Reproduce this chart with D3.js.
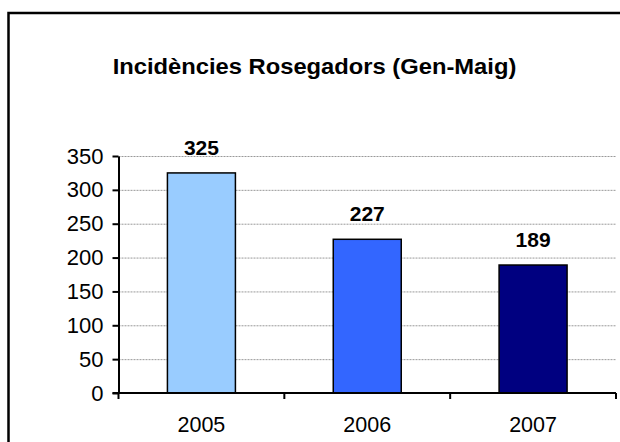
<!DOCTYPE html>
<html>
<head>
<meta charset="utf-8">
<script src="https://cdn.jsdelivr.net/npm/d3@7"></script>
<style>
  html,body{margin:0;padding:0;background:#fff;}
  svg{display:block;}
  text{font-family:"Liberation Sans",Arial,sans-serif;fill:#000;}
</style>
</head>
<body>
<svg id="chart" width="620" height="442"></svg>
<script>
// Incidències Rosegadors (Gen-Maig) — barres per any
var years=["2005","2006","2007"];
var counts=[325,227,189];
var barColors=["#99ccff","#3366ff","#000080"];
var yTicks=[0,50,100,150,200,250,300,350];
var title="Incidències Rosegadors (Gen-Maig)";

var W=620,H=442;
var plot={left:118.5,right:616,top:156,bottom:393};

var svg=d3.select("#chart");

// marc exterior (retallat a dreta i a baix, com a l'original)
svg.append("rect")
  .attr("x",8.5).attr("y",13)
  .attr("width",W).attr("height",H)
  .attr("fill","none").attr("stroke","#000").attr("stroke-width",2.5);

// títol, una mica eixamplat com a la imatge original
svg.append("text")
  .attr("transform","translate(314.5,73.5) scale(1.08,1)")
  .attr("text-anchor","middle")
  .attr("font-size",22).attr("font-weight","bold")
  .text(title);

var x=d3.scaleBand().domain(years).range([plot.left,plot.right]).paddingInner(0).paddingOuter(0);
var y=d3.scaleLinear().domain([0,350]).range([plot.bottom,plot.top]);

// graella
svg.append("g")
  .selectAll("line")
  .data(yTicks.filter(function(t){return t>0;}))
  .enter().append("line")
  .attr("x1",plot.left).attr("x2",plot.right)
  .attr("y1",function(d){return y(d)+0.5;}).attr("y2",function(d){return y(d)+0.5;})
  .attr("stroke","#999").attr("stroke-width",1).attr("stroke-dasharray","2,1");

// barres: amplada ~40% de la banda (gap 150%)
var bw=x.bandwidth()*0.41;
svg.append("g")
  .selectAll("rect")
  .data(counts)
  .enter().append("rect")
  .attr("x",function(d,i){return x(years[i])+x.bandwidth()/2-bw/2;})
  .attr("y",function(d){return y(d);})
  .attr("width",bw)
  .attr("height",function(d){return y(0)-y(d);})
  .attr("fill",function(d,i){return barColors[i];})
  .attr("stroke","#000").attr("stroke-width",1.5);

// etiquetes de valor
svg.append("g")
  .selectAll("text")
  .data(counts)
  .enter().append("text")
  .attr("x",function(d,i){return x(years[i])+x.bandwidth()/2;})
  .attr("y",function(d){return y(d)-18;})
  .attr("text-anchor","middle")
  .attr("font-size",21).attr("font-weight","bold")
  .text(function(d){return d;});

// eix Y
var yAxis=d3.axisLeft(y).tickValues(yTicks).tickSize(6).tickPadding(9).tickSizeOuter(0);
var gy=svg.append("g").attr("transform","translate("+plot.left+",0)").call(yAxis);
gy.select(".domain").attr("stroke","#000").attr("stroke-width",2);
gy.selectAll(".tick line").attr("stroke","#000").attr("stroke-width",2);
gy.selectAll(".tick text").attr("font-size",22).attr("font-family",null).attr("fill","#000");

// eix X: marques als límits de les bandes
var xAxis=d3.axisBottom(x).tickSize(0).tickPadding(24);
var gx=svg.append("g").attr("transform","translate(0,"+plot.bottom+")").call(xAxis);
gx.select(".domain").attr("stroke","#000").attr("stroke-width",2).attr("d","M"+(plot.left-6)+",0H"+plot.right);
gx.selectAll(".tick text").attr("font-size",21.5).attr("font-family",null).attr("fill","#000");
gx.selectAll("line.edge")
  .data(years.map(function(c){return x(c);}).concat([plot.right]))
  .enter().append("line").attr("class","edge")
  .attr("x1",function(d){return d;}).attr("x2",function(d){return d;})
  .attr("y1",0).attr("y2",6)
  .attr("stroke","#000").attr("stroke-width",2);
</script>
</body>
</html>
